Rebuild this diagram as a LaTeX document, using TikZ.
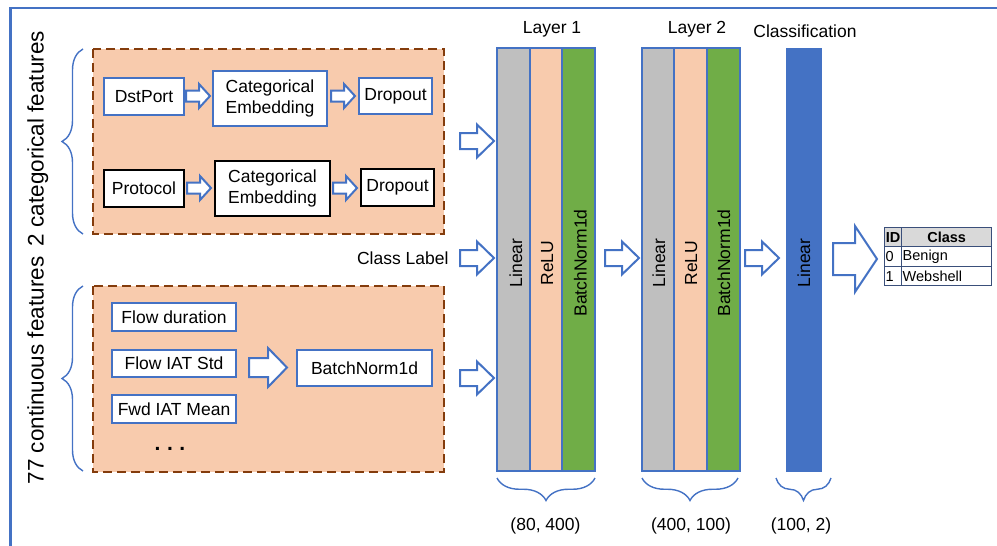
\documentclass[tikz,border=0pt]{standalone}
\usepackage{fontspec}
\setmainfont{Liberation Sans}
\usetikzlibrary{decorations.pathreplacing}
\definecolor{myblue}{HTML}{4472C4}
\definecolor{peach}{HTML}{F8CBAD}
\definecolor{grayc}{HTML}{BFBFBF}
\definecolor{greenc}{HTML}{70AD47}
\definecolor{dashbrown}{HTML}{843C0C}
\definecolor{tabline}{HTML}{3A4F7A}
\definecolor{tabhead}{HTML}{D9D9D9}
% hollow block arrow: x-start, x-tip, y-centre, shaft half height, head half height, head length
\newcommand{\blockarr}[6]{%
  \draw[blockarrow] (#1,{#3-#4}) -- ({#2-#6},{#3-#4}) -- ({#2-#6},{#3-#5}) -- (#2,#3)
    -- ({#2-#6},{#3+#5}) -- ({#2-#6},{#3+#4}) -- (#1,{#3+#4}) -- cycle;}
\tikzset{
  txt/.style={font=\fontsize{17.5}{20.5}\selectfont},
  bigtxt/.style={font=\fontsize{22.5}{26}\selectfont},
  tabtxt/.style={font=\fontsize{14.5}{16}\selectfont, inner sep=0pt},
  bluebox/.style={txt, draw=myblue, line width=1.8pt, fill=white, inner sep=0pt, align=center},
  blackbox/.style={txt, draw=black, line width=1.8pt, fill=white, inner sep=0pt, align=center},
  group/.style={draw=dashbrown, fill=peach, line width=2.3pt, dash pattern=on 9pt off 5pt},
  blockarrow/.style={draw=myblue, line width=2pt, fill=white, line join=miter},
  col/.style={draw=myblue, line width=2pt, minimum height=423pt, inner sep=0pt},
  coltxt/.style={txt, rotate=90, anchor=base},
  bracel/.style={draw=myblue, line width=1.4pt, decorate, decoration={brace, amplitude=#1}},
  cell/.style={draw=tabline, line width=1.3pt, inner sep=0pt, anchor=north west}
}
\begin{document}
\begin{tikzpicture}[x=1pt, y=-1pt]
\useasboundingbox (0,0) rectangle (997,546);

% frame
\draw[myblue, line width=2.6pt] (10.3,546) -- (10.3,8) -- (997,8);

% feature groups
\path[group] (93,49) rectangle (444,234);
\path[group] (93,286) rectangle (444,472);

% braces and group labels
\draw[bracel=21pt] (83,234) -- (83,49);
\draw[bracel=21pt] (83,471) -- (83,286);
\node[bigtxt, rotate=90, anchor=base] (catlab) at (43.5,138.5) {2 categorical features};
\node[bigtxt, rotate=90, anchor=base] (conlab) at (43.5,370.5) {77 continuous features};

% categorical branch
\node[bluebox, minimum width=80pt, minimum height=37pt] (dst) at (144,96.5) {DstPort};
\node[bluebox, minimum width=114pt, minimum height=55pt] (emb1) at (270,98.5) {Categorical\\Embedding};
\node[bluebox, minimum width=73pt, minimum height=36pt] (drop1) at (395.5,96) {Dropout};
\node[blackbox, minimum width=80pt, minimum height=37pt] (proto) at (144,188.5) {Protocol};
\node[blackbox, minimum width=115pt, minimum height=55pt] (emb2) at (272.5,188.5) {Categorical\\Embedding};
\node[blackbox, minimum width=73pt, minimum height=37pt] (drop2) at (397.5,187.5) {Dropout};
\blockarr{186}{210}{96}{5.5}{12}{11}
\blockarr{331}{355}{96}{5.5}{12}{11}
\blockarr{187}{211}{188}{5.5}{12}{11}
\blockarr{333}{357}{188}{5.5}{12}{11}

% continuous branch
\node[bluebox, minimum width=124pt, minimum height=28pt] (fdur) at (174,317) {Flow duration};
\node[bluebox, minimum width=124pt, minimum height=27pt] (fiat) at (174,363.5) {Flow IAT Std};
\node[bluebox, minimum width=124pt, minimum height=28pt] (fwd) at (174,409) {Fwd IAT Mean};
\node[anchor=base, inner sep=0pt, font=\fontsize{21}{24}\selectfont\bfseries] (dots) at (170,450) {.\hspace{6.5pt}.\hspace{6.5pt}.};
\node[bluebox, minimum width=135pt, minimum height=36pt] (bn) at (364.5,368) {BatchNorm1d};
\blockarr{249}{287}{367.5}{9.5}{19.5}{19}

% inputs to layer 1
\blockarr{460}{494}{141}{8}{16.5}{17}
\blockarr{460}{494}{258}{8}{16.5}{17}
\blockarr{460}{494}{378}{8}{16.5}{17}
\node[txt, anchor=east] (cls) at (452,258) {Class Label};

% layer 1
\node[col, fill=grayc, minimum width=33pt] (l1a) at (513.5,259.5) {};
\node[col, fill=peach, minimum width=32pt] (l1b) at (546,259.5) {};
\node[col, fill=greenc, minimum width=33pt] (l1c) at (578.5,259.5) {};
\node[coltxt] (l1at) at (522,263) {Linear};
\node[coltxt] (l1bt) at (553,263) {ReLU};
\node[coltxt] (l1ct) at (586.5,263) {BatchNorm1d};
\node[txt] (lay1) at (552,29) {Layer 1};

% layer 2
\node[col, fill=grayc, minimum width=32pt] (l2a) at (658,259.5) {};
\node[col, fill=peach, minimum width=33pt] (l2b) at (690.5,259.5) {};
\node[col, fill=greenc, minimum width=33pt] (l2c) at (723.5,259.5) {};
\node[coltxt] (l2at) at (665,263) {Linear};
\node[coltxt] (l2bt) at (697,263) {ReLU};
\node[coltxt] (l2ct) at (730,263) {BatchNorm1d};
\node[txt] (lay2) at (697,29) {Layer 2};

% classification
\node[col, draw=myblue, fill=myblue, line width=0pt, minimum width=35pt] (clf) at (803.5,259.5) {};
\node[coltxt] (clft) at (810,263) {Linear};
\node[txt] (clab) at (805,31) {Classification};

\blockarr{605}{639}{258}{8}{16.5}{17}
\blockarr{745}{779}{258}{8}{16.5}{17}
\blockarr{833}{877}{259}{16}{33}{22}

% shape braces and labels
\draw[bracel=22.5pt] (595,478) -- (497,478);
\draw[bracel=22.5pt] (738,478) -- (642,478);
\draw[bracel=22.5pt] (831,478) -- (776,478);
\node[txt] (d1) at (545.5,526) {(80, 400)};
\node[txt] (d2) at (691,526) {(400, 100)};
\node[txt] (d3) at (801,526) {(100, 2)};

% output class table
\node[cell, fill=tabhead, minimum width=17pt, minimum height=19pt] (hid) at (884,227) {};
\node[cell, fill=tabhead, minimum width=90pt, minimum height=19pt] (hcl) at (901,227) {};
\node[cell, minimum width=17pt, minimum height=20pt] (r0id) at (884,246) {};
\node[cell, minimum width=90pt, minimum height=20pt] (r0cl) at (901,246) {};
\node[cell, minimum width=17pt, minimum height=19pt] (r1id) at (884,266) {};
\node[cell, minimum width=90pt, minimum height=19pt] (r1cl) at (901,266) {};
\node[tabtxt, font=\fontsize{14.5}{16}\selectfont\bfseries] at (hid.center) {ID};
\node[tabtxt, font=\fontsize{14.5}{16}\selectfont\bfseries] at (hcl.center) {Class};
\node[tabtxt, anchor=west] at ([xshift=1.5pt]r0id.west) {0};
\node[tabtxt, anchor=west] at ([xshift=1.5pt]r0cl.west) {Benign};
\node[tabtxt, anchor=west] at ([xshift=1.5pt]r1id.west) {1};
\node[tabtxt, anchor=west] at ([xshift=1.5pt]r1cl.west) {Webshell};
\end{tikzpicture}
\end{document}
